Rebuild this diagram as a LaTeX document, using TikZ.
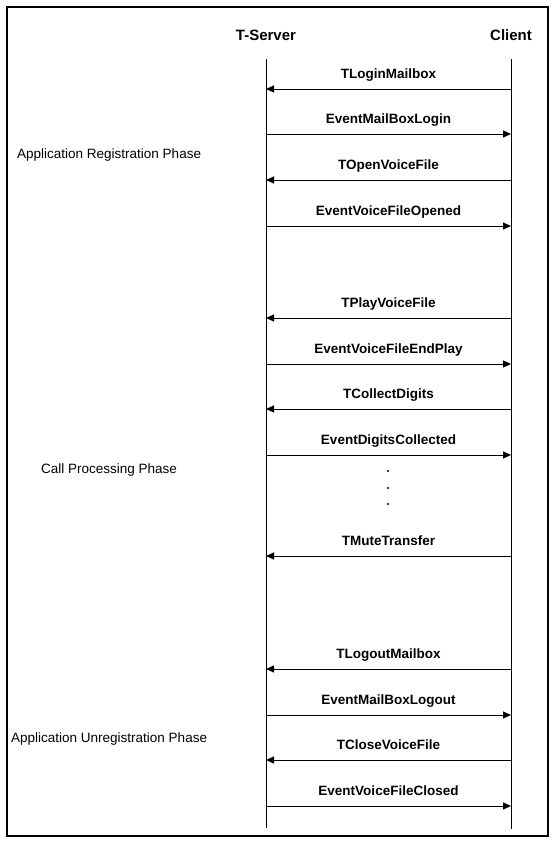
\documentclass[tikz,border=0pt]{standalone}
\usepackage{fontspec}
\setmainfont{Liberation Sans}
\usepackage{tikz}
\usetikzlibrary{arrows.meta, positioning}

\begin{document}
\begin{tikzpicture}[
      x=1pt, y=1pt,
      font=\fontsize{13.5}{16}\selectfont,
      frame/.style={draw, line width=2pt},
      life/.style={draw, line width=1pt},
      head/.style={font=\fontsize{15}{18}\selectfont\bfseries, anchor=base},
      phase/.style={anchor=base west, inner sep=0pt},
      lbl/.style={font=\fontsize{13.5}{16}\selectfont\bfseries, anchor=base, inner sep=0pt, yshift=11pt},
      msg/.style={line width=1pt, -{Triangle[length=8pt, width=7pt]}},
      dot/.style={circle, fill, inner sep=0pt, minimum size=2.2pt},
    ]
    \useasboundingbox (0,0) rectangle (559,-846);
    % lane x positions
    \def\xs{266} \def\xc{511}
    % outer frame
    \draw[frame] (7,-7) rectangle (548,-836);

    % lane headers
    \node[head] (server) at (\xs,-40) {T-Server};
    \node[head] (client) at (\xc,-40) {Client};

    % --- lifelines ---
    \coordinate (stop) at (\xs,-59);  \coordinate (sbot) at (\xs,-828);
    \coordinate (ctop) at (\xc,-59);  \coordinate (cbot) at (\xc,-829);
    \draw[life] (stop) -- (sbot);
    \draw[life] (ctop) -- (cbot);

    % --- messages: y / text / direction (l = client to server, r = server to client) ---
    \foreach \i/\y/\txt/\dir in {
        1/89/TLoginMailbox/l, 2/134/EventMailBoxLogin/r,
        3/180/TOpenVoiceFile/l, 4/226/EventVoiceFileOpened/r,
        5/318/TPlayVoiceFile/l, 6/364/EventVoiceFileEndPlay/r,
        7/409/TCollectDigits/l, 8/455/EventDigitsCollected/r,
        9/556/TMuteTransfer/l,
        10/669/TLogoutMailbox/l, 11/715/EventMailBoxLogout/r,
        12/760/TCloseVoiceFile/l, 13/806/EventVoiceFileClosed/r} {
      \coordinate (s\i) at (\xs,-\y);
      \coordinate (c\i) at (\xc,-\y);
      \if\dir l
        \draw[msg] (c\i) -- node[lbl] {\txt} (s\i);
      \else
        \draw[msg] (s\i) -- node[lbl] {\txt} (c\i);
      \fi
    }

    % --- ellipsis between the call processing messages ---
    \node[dot] (d1) at (388,-471) {};
    \node[dot] (d2) at (388,-488) {};
    \node[dot] (d3) at (388,-504) {};

    % --- phase labels ---
    \node[phase] (preg)   at (17,-158) {Application Registration Phase};
    \node[phase] (pcall)  at (41,-473) {Call Processing Phase};
    \node[phase] (punreg) at (11,-742) {Application Unregistration Phase};
  \end{tikzpicture}
\end{document}
